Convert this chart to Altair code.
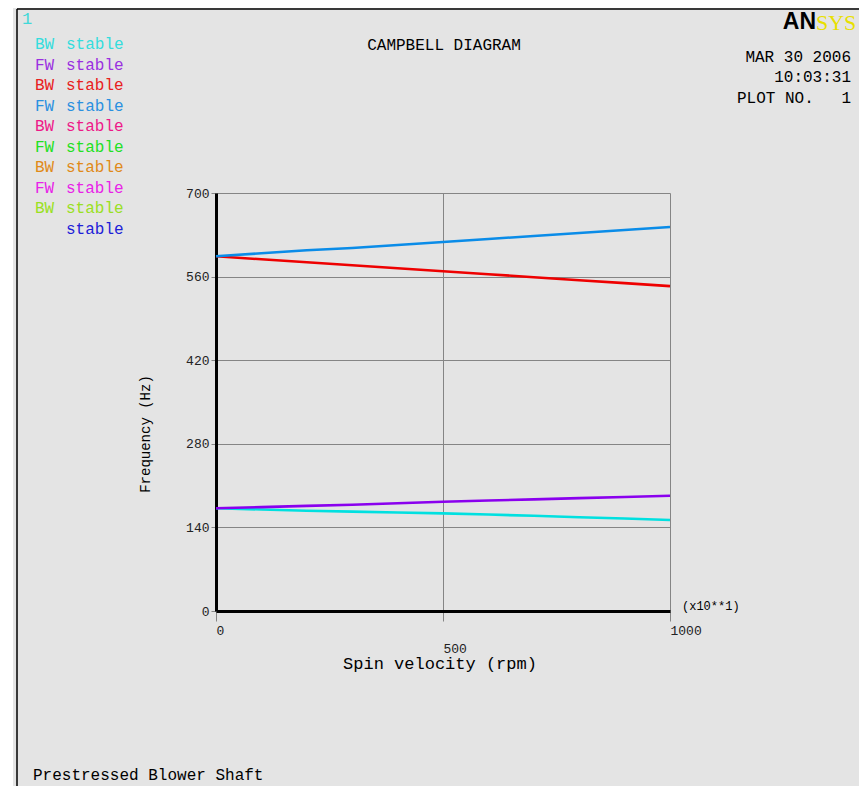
import altair as alt
import pandas as pd

# ---------------- data ----------------
speed = [0, 100, 200, 300, 400, 500, 600, 700, 800, 900, 1000]
bw_mode1 = [172, 170, 168, 166.5, 165, 163.5, 161.5, 159.5, 157, 155, 152.5]   # cyan
fw_mode1 = [172, 174, 176, 178, 180.5, 183, 185, 187, 189, 191, 193]         # purple
bw_mode2 = [594, 589, 584, 579, 574, 569, 564, 559, 554, 549, 544]           # red
fw_mode2 = [594, 599, 604, 608, 613, 618, 623, 628, 633, 638, 643]           # blue

series_names = ["BW mode 1", "FW mode 1", "BW mode 2", "FW mode 2"]
line_colors = ["#00e0e0", "#8a00ee", "#ee0000", "#0a8ce8"]

legend_tags = ["BW", "FW", "BW", "FW", "BW", "FW", "BW", "FW", "BW", ""]
legend_word = ["stable"] * 10
legend_colors = ["#33dddd", "#9a30e0", "#e82020", "#2a90e0", "#ee1888",
                 "#22e022", "#e08a18", "#e822e8", "#99e022", "#2020d8"]

x_ticks = [0, 500, 1000]
y_ticks = [0, 140, 280, 420, 560, 700]

rows = []
for name, vals in zip(series_names, [bw_mode1, fw_mode1, bw_mode2, fw_mode2]):
    for s, v in zip(speed, vals):
        rows.append({"speed": s, "freq": v, "series": name})
df = pd.DataFrame(rows)
one = pd.DataFrame({"k": [0]})

MONO = "Liberation Mono"
BG = "#e4e4e4"
GRID = "#858585"

# plot area origin in page pixels
OX, OY = 216, 193
def px(x):
    return x - OX
def py(y):
    return y - OY

def txt(text, x, y, color="black", size=16, align="left", font=MONO,
        angle=None, weight="normal"):
    kw = dict(text=text, color=color, fontSize=size, align=align, font=font,
              baseline="middle", fontWeight=weight)
    if angle is not None:
        kw["angle"] = angle
    return alt.Chart(one).mark_text(**kw).encode(x=alt.value(px(x)), y=alt.value(py(y)))

# ---------------- frame ----------------
white_strip = alt.Chart(one).mark_rect(color="white").encode(
    x=alt.value(px(8)), x2=alt.value(px(13)), y=alt.value(py(0)), y2=alt.value(py(800)))
frame_v = alt.Chart(one).mark_rule(color="black", strokeWidth=1.5).encode(
    x=alt.value(px(17)), y=alt.value(py(9)), y2=alt.value(py(800)))
frame_h = alt.Chart(one).mark_rule(color="black", strokeWidth=1.5).encode(
    x=alt.value(px(17)), x2=alt.value(px(870)), y=alt.value(py(9)))

# ---------------- lines ----------------
lines = alt.Chart(df).mark_line(strokeWidth=2.6).encode(
    x=alt.X("speed:Q",
            scale=alt.Scale(domain=[0, 1000], nice=False, zero=False),
            axis=alt.Axis(values=x_ticks, title=None, grid=True, gridColor=GRID,
                          gridWidth=1, domainColor="black", domainWidth=3,
                          tickColor=GRID, tickSize=10, labelAlign="left",
                          labelBaseline="top", labelPadding=3, labelFont=MONO,
                          labelFontSize=13, labelColor="#222222", labelFlush=False,
                          labelOverlap=False, labelLineHeight=18, format="d",
                          labelExpr="datum.value == 500 ? ['', datum.label] : datum.label")),
    y=alt.Y("freq:Q",
            scale=alt.Scale(domain=[0, 700], nice=False, zero=True),
            axis=alt.Axis(values=y_ticks, title=None, grid=True, gridColor=GRID,
                          gridWidth=1, domainColor="black", domainWidth=3,
                          tickColor=GRID, tickSize=5, labelPadding=2,
                          labelFont=MONO, labelFontSize=13, labelColor="#222222",
                          labelOverlap=False, labelFlush=False)),
    color=alt.Color("series:N", scale=alt.Scale(domain=series_names, range=line_colors),
                    legend=None),
    detail="series:N",
)

layers = [white_strip, frame_v, frame_h, lines]

# ---------------- texts ----------------
layers.append(txt("1", 22, 19, color="#40d8d8", size=17, align="left"))
for i, (tag, word, col) in enumerate(zip(legend_tags, legend_word, legend_colors)):
    y = 44 + i * 20.5
    if tag:
        layers.append(txt(tag, 35, y, color=col, size=16))
    layers.append(txt(word, 66, y, color=col, size=16))

layers.append(txt("CAMPBELL DIAGRAM", 444, 45, size=16, align="center"))
layers.append(txt("AN", 816, 22, size=23, align="right", font="Liberation Sans",
                  weight="bold"))
layers.append(txt("SYS", 816, 23, color="#e8e000", size=22, align="left",
                  font="Liberation Serif"))
layers.append(txt("MAR 30 2006", 851, 57, size=16, align="right"))
layers.append(txt("10:03:31", 851, 77, size=16, align="right"))
layers.append(txt("PLOT NO.", 737, 98, size=16, align="left"))
layers.append(txt("1", 851, 98, size=16, align="right"))

layers.append(txt("(x10**1)", 682, 606, size=12, align="left"))
layers.append(txt("Spin velocity (rpm)", 440, 664, size=17, align="center"))
layers.append(txt("Frequency (Hz)", 146, 434, size=14, align="center", angle=270))
layers.append(txt("Prestressed Blower Shaft", 33, 775, size=16, align="left"))

TOTAL_W, TOTAL_H = 851, 778
W, H = 454, 418
chart = alt.layer(*layers).properties(
    width=W, height=H,
    autosize="none",
    padding={"left": OX - 8, "top": OY - 8,
             "right": TOTAL_W - (OX - 8) - W,
             "bottom": TOTAL_H - (OY - 8) - H},
    background=BG,
).configure_view(stroke=None)

chart.save("out.html", embed_options={"renderer": "svg", "actions": False})
